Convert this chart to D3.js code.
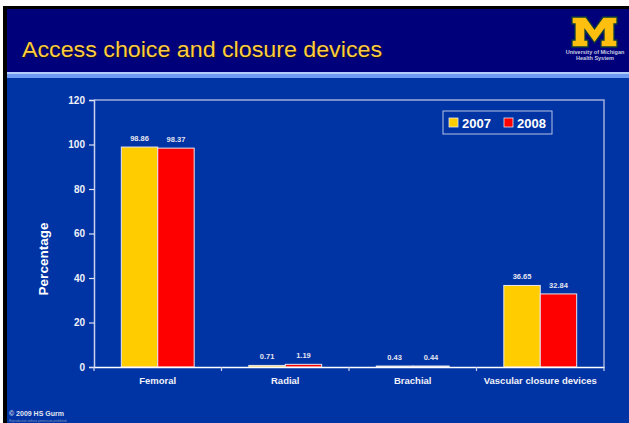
<!DOCTYPE html>
<html>
<head>
<meta charset="utf-8">
<script src="https://cdn.jsdelivr.net/npm/d3@7"></script>
<style>
  body { margin: 0; padding: 0; background: #fff; }
  svg { display: block; font-family: "Liberation Sans", Arial, sans-serif; }
</style>
</head>
<body>
<div id="vis"></div>
<script>
const FRAME_WIDTH = 629;
const FRAME_HEIGHT = 423;

// chart data
const CATEGORIES = ["Femoral", "Radial", "Brachial", "Vascular closure devices"];
const YEARS = ["2007", "2008"];
const VALUES_2007 = [98.86, 0.71, 0.43, 36.65];
const VALUES_2008 = [98.37, 1.19, 0.44, 32.84];
const Y_TICKS = [0, 20, 40, 60, 80, 100, 120];
const COLORS = {"2007": "#FFCC00", "2008": "#FF0000"};

// plot box
const PLOT = {left: 94, right: 604, top: 100, bottom: 367};

const SVG = d3.select("#vis")
  .append("svg")
    .attr("width", FRAME_WIDTH)
    .attr("height", FRAME_HEIGHT);

// slide background
SVG.append("rect").attr("x", 0).attr("y", 0).attr("width", FRAME_WIDTH).attr("height", FRAME_HEIGHT).attr("fill", "#fff");
SVG.append("rect").attr("x", 3).attr("y", 6).attr("width", FRAME_WIDTH - 3).attr("height", FRAME_HEIGHT - 6).attr("fill", "#000");
SVG.append("rect").attr("x", 7).attr("y", 9).attr("width", FRAME_WIDTH - 7).attr("height", 63).attr("fill", "#00007A");
SVG.append("rect").attr("x", 7).attr("y", 72).attr("width", FRAME_WIDTH - 7).attr("height", 6).attr("fill", "#6E9CF5");
SVG.append("rect").attr("x", 7).attr("y", 72).attr("width", FRAME_WIDTH - 7).attr("height", 2).attr("fill", "#B4CCFA");
SVG.append("rect").attr("x", 7).attr("y", 78).attr("width", FRAME_WIDTH - 7).attr("height", FRAME_HEIGHT - 78).attr("fill", "#0033A3");

// title with shadow
SVG.append("text").attr("x", 23).attr("y", 58).text("Access choice and closure devices")
  .attr("font-size", "22px").attr("textLength", 360).attr("lengthAdjust", "spacingAndGlyphs")
  .attr("fill", "#141414");
SVG.append("text").attr("x", 22).attr("y", 57).text("Access choice and closure devices")
  .attr("font-size", "22px").attr("textLength", 360).attr("lengthAdjust", "spacingAndGlyphs")
  .attr("fill", "#FFCC44");

// logo: block M drawn as a shape, then the two small lines of text
const M_SHAPE = [[0,0],[14,0],[22.5,12],[31,0],[45,0],[45,7],[42,7],[42,23],[45,23],[45,30],[29,30],[29,23],[32,23],[32,13],[22.5,26],[13,13],[13,23],[16,23],[16,30],[0,30],[0,23],[3,23],[3,7],[0,7]];
SVG.append("path")
  .attr("transform", "translate(572,17)")
  .attr("d", d3.line()(M_SHAPE) + "Z")
  .attr("fill", "#FFBF0F").attr("stroke", "#0d3a3a").attr("stroke-width", 1.3);
SVG.append("text").attr("x", 595).attr("y", 54).attr("text-anchor", "middle").text("University of Michigan")
  .attr("font-size", "5.5px").attr("font-weight", "bold").attr("fill", "#C8CCE0");
SVG.append("text").attr("x", 595).attr("y", 60).attr("text-anchor", "middle").text("Health System")
  .attr("font-size", "5.5px").attr("font-weight", "bold").attr("fill", "#C8CCE0");

// scales
const X_SCALE = d3.scaleBand()
  .domain(CATEGORIES)
  .range([PLOT.left, PLOT.right])
  .paddingInner(0).paddingOuter(0);

const X_SUB = d3.scaleBand()
  .domain(YEARS)
  .range([0, X_SCALE.bandwidth()])
  .paddingInner(0).paddingOuter(0.75);

const Y_SCALE = d3.scaleLinear()
  .domain([0, 120])
  .range([PLOT.bottom, PLOT.top]);

// plot frame (top and right)
SVG.append("path")
  .attr("d", "M" + PLOT.left + "," + Y_SCALE(120) + "H" + PLOT.right + "V" + Y_SCALE(0))
  .attr("fill", "none").attr("stroke", "#9FB0DC").attr("stroke-width", 1.5);

// bars
const rows = [];
CATEGORIES.forEach((c, i) => {
  rows.push({cat: c, year: "2007", value: VALUES_2007[i]});
  rows.push({cat: c, year: "2008", value: VALUES_2008[i]});
});

SVG.selectAll(".bar")
  .data(rows)
  .enter()
  .append("rect")
    .attr("class", "bar")
    .attr("x", (d) => X_SCALE(d.cat) + X_SUB(d.year))
    .attr("y", (d) => Y_SCALE(d.value))
    .attr("width", X_SUB.bandwidth())
    .attr("height", (d) => Y_SCALE(0) - Y_SCALE(d.value))
    .attr("fill", (d) => COLORS[d.year])
    .attr("stroke", "#E6E6EE")
    .attr("stroke-width", 1);

// value labels
SVG.selectAll(".val")
  .data(rows)
  .enter()
  .append("text")
    .attr("class", "val")
    .attr("x", (d) => X_SCALE(d.cat) + X_SUB(d.year) + X_SUB.bandwidth() / 2)
    .attr("y", (d) => Y_SCALE(d.value) - 6)
    .attr("text-anchor", "middle")
    .attr("font-size", "7.5px")
    .attr("font-weight", "bold")
    .attr("fill", "#E4E6F2")
    .text((d) => d.value.toFixed(2));

// y axis
const yAxis = SVG.append("g")
  .attr("transform", "translate(" + PLOT.left + ",0)")
  .call(d3.axisLeft(Y_SCALE).tickValues(Y_TICKS).tickSize(5).tickPadding(4));
yAxis.select(".domain").attr("stroke", "#C9D2EE").attr("stroke-width", 1.5);
yAxis.selectAll(".tick line").attr("stroke", "#E0E4F4").attr("stroke-width", 1.2);
yAxis.selectAll(".tick text")
  .attr("fill", "#F0F2FA").attr("font-size", "10px").attr("font-weight", "bold")
  .attr("font-family", "Liberation Sans, Arial, sans-serif");

// x axis
const xAxis = SVG.append("g")
  .attr("transform", "translate(0," + PLOT.bottom + ")")
  .call(d3.axisBottom(X_SCALE).tickSize(0).tickPadding(10));
xAxis.select(".domain").attr("stroke", "#FFFFFF").attr("stroke-width", 1.5);
xAxis.selectAll(".tick text")
  .attr("fill", "#F0F2FA").attr("font-size", "9.5px").attr("font-weight", "bold")
  .attr("font-family", "Liberation Sans, Arial, sans-serif");

// category boundary ticks
const bounds = CATEGORIES.map((c) => X_SCALE(c)).concat([X_SCALE.range()[1]]);
SVG.selectAll(".xtick")
  .data(bounds)
  .enter()
  .append("line")
    .attr("x1", (d) => d).attr("x2", (d) => d)
    .attr("y1", PLOT.bottom).attr("y2", PLOT.bottom + 4)
    .attr("stroke", "#C9D2EE").attr("stroke-width", 1.2);

// y axis title
SVG.append("text")
  .attr("transform", "translate(48,259) rotate(-90)")
  .attr("text-anchor", "middle")
  .attr("font-size", "13.5px").attr("font-weight", "bold").attr("fill", "#FFFFFF")
  .text("Percentage");

// legend
const LEGEND = SVG.append("g").attr("transform", "translate(443,111)");
LEGEND.append("rect").attr("x", 0).attr("y", 0).attr("width", 109).attr("height", 23)
  .attr("fill", "none").attr("stroke", "#B8C4E8").attr("stroke-width", 1);
YEARS.forEach((y, i) => {
  const g = LEGEND.append("g").attr("transform", "translate(" + (6 + i * 55) + ",0)");
  g.append("rect").attr("x", 0).attr("y", 7).attr("width", 9).attr("height", 9)
    .attr("fill", COLORS[y]).attr("stroke", "#E6E6EE").attr("stroke-width", 0.8);
  g.append("text").attr("x", 13).attr("y", 16.5).text(y)
    .attr("font-size", "13px").attr("font-weight", "bold").attr("fill", "#FFFFFF");
});

// footer
SVG.append("text").attr("x", 9).attr("y", 416).text("\u00A9 2009 HS Gurm")
  .attr("font-size", "7px").attr("font-weight", "bold").attr("fill", "#E4E6F2");
SVG.append("text").attr("x", 9).attr("y", 421.5).text("Reproduction without permission prohibited")
  .attr("font-size", "3px").attr("fill", "#8899BB");
</script>
</body>
</html>
